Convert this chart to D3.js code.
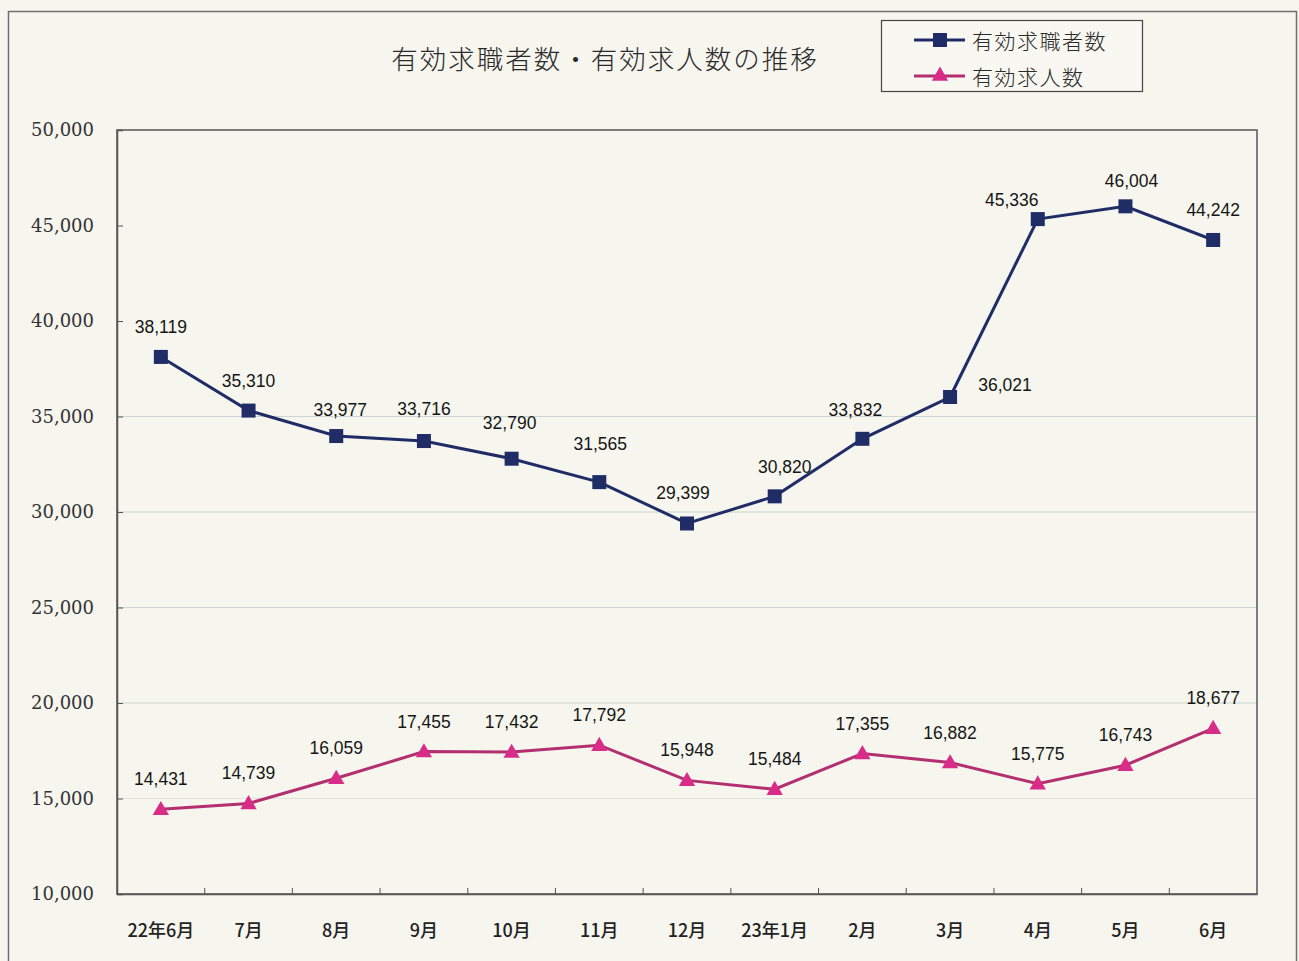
<!DOCTYPE html>
<html>
<head>
<meta charset="utf-8">
<script src="https://cdn.jsdelivr.net/npm/d3@7"></script>
<style>
  html, body { margin: 0; padding: 0; background: #f6f5ee; }
  svg { display: block; }
</style>
</head>
<body>
<svg id="chart"></svg>
<script>
// chart data
const months = ['22年6月', '7月', '8月', '9月', '10月', '11月', '12月', '23年1月', '2月', '3月', '4月', '5月', '6月'];
const jobSeekers = [38119, 35310, 33977, 33716, 32790, 31565, 29399, 30820, 33832, 36021, 45336, 46004, 44242];
const jobOffers = [14431, 14739, 16059, 17455, 17432, 17792, 15948, 15484, 17355, 16882, 15775, 16743, 18677];
const yTicks = [10000, 15000, 20000, 25000, 30000, 35000, 40000, 45000, 50000];
const gridTicks = [15000, 20000, 25000, 30000, 35000]; // the upper gridlines are faded out in the scan
const seriesNames = ['有効求職者数', '有効求人数'];
const title = '有効求職者数・有効求人数の推移';

// small nudges for a few value labels (as placed in the original)
const seekerLabelDx = [0, 0, 4, 0, -2, 1, -4, 10, -7, 55, -26, 6, 0];
const seekerLabelDy = [-30, -30, -26, -32, -36, -38, -30, -29, -29, -12, -19, -25, -30];

const W = 1299, H = 961;
const margin = { left: 117, top: 130, right: W - 1257, bottom: H - 894 };
const navy = '#1f2c66', pinkLine = '#b32f6f', pinkMark = '#d92c88';

const svg = d3.select('#chart').attr('width', W).attr('height', H);

// outer frame
svg.append('rect')
    .attr('x', 8.5).attr('y', 11.5)
    .attr('width', 1288).attr('height', 970)
    .attr('fill', 'none').attr('stroke', '#6f6f6f').attr('stroke-width', 1.5);

const x = d3.scaleBand()
    .domain(months)
    .range([margin.left, W - margin.right]);

const y = d3.scaleLinear()
    .domain([10000, 50000])
    .range([H - margin.bottom, margin.top]);

// gridlines
svg.append('g')
    .selectAll('line')
    .data(gridTicks)
    .join('line')
    .attr('x1', margin.left).attr('x2', W - margin.right)
    .attr('y1', d => y(d)).attr('y2', d => y(d))
    .attr('stroke', d => d === 15000 ? '#dfe3dc' : '#cbd5d1')
    .attr('stroke-width', 1.2);

// plot frame
svg.append('rect')
    .attr('x', margin.left).attr('y', margin.top)
    .attr('width', W - margin.left - margin.right)
    .attr('height', H - margin.top - margin.bottom)
    .attr('fill', 'none').attr('stroke', '#555').attr('stroke-width', 1.5);

// y axis
const yAxis = svg.append('g')
    .attr('transform', `translate(${margin.left},0)`)
    .call(d3.axisLeft(y).tickValues(yTicks).tickSize(-6).tickPadding(23).tickFormat(d3.format(',')));
yAxis.select('.domain').attr('stroke', '#555').attr('stroke-width', 1.5);
yAxis.selectAll('.tick line').attr('stroke', '#555');
yAxis.selectAll('text')
    .attr('fill', '#333')
    .style('font-family', '"DejaVu Serif", "Liberation Serif", serif')
    .style('font-size', '18px');

// x axis: ticks at category boundaries, pointing inward
const xAxis = svg.append('g')
    .attr('transform', `translate(0,${H - margin.bottom})`)
    .call(d3.axisBottom(x).tickSize(0).tickPadding(0));
xAxis.select('.domain').attr('stroke', '#555').attr('stroke-width', 1.5);
xAxis.selectAll('text')
    .attr('y', 43)
    .attr('dy', 0)
    .attr('fill', '#222')
    .style('font-family', '"Noto Sans CJK JP", sans-serif')
    .style('font-weight', 500)
    .style('font-size', '18px');
xAxis.selectAll('.boundary')
    .data(months.slice(1))
    .join('line')
    .attr('class', 'boundary')
    .attr('x1', d => x(d)).attr('x2', d => x(d))
    .attr('y1', 0).attr('y2', -6)
    .attr('stroke', '#555');

const cx = d => x(d) + x.bandwidth() / 2;
const line = d3.line().x((d, i) => cx(months[i])).y(d => y(d));

// job seekers series
svg.append('path')
    .datum(jobSeekers)
    .attr('d', line)
    .attr('fill', 'none').attr('stroke', navy).attr('stroke-width', 3);
svg.append('g')
    .selectAll('rect')
    .data(jobSeekers)
    .join('rect')
    .attr('x', (d, i) => cx(months[i]) - 7)
    .attr('y', d => y(d) - 7)
    .attr('width', 14).attr('height', 14)
    .attr('fill', navy);

// job offers series
svg.append('path')
    .datum(jobOffers)
    .attr('d', line)
    .attr('fill', 'none').attr('stroke', pinkLine).attr('stroke-width', 3);
const tri = d3.symbol().type(d3.symbolTriangle).size(115);
svg.append('g')
    .selectAll('path')
    .data(jobOffers)
    .join('path')
    .attr('d', tri)
    .attr('transform', (d, i) => `translate(${cx(months[i])},${y(d) + 1})`)
    .attr('fill', pinkMark);

// value labels
const labelFont = '"Liberation Sans", Arial, sans-serif';
svg.append('g')
    .selectAll('text')
    .data(jobSeekers)
    .join('text')
    .attr('x', (d, i) => cx(months[i]) + seekerLabelDx[i])
    .attr('y', (d, i) => y(d) + seekerLabelDy[i] + 6)
    .attr('text-anchor', 'middle')
    .attr('fill', '#151515')
    .style('font-family', labelFont)
    .style('font-size', '17.5px')
    .text(d => d3.format(',')(d));

svg.append('g')
    .selectAll('text')
    .data(jobOffers)
    .join('text')
    .attr('x', (d, i) => cx(months[i]))
    .attr('y', d => y(d) - 24)
    .attr('text-anchor', 'middle')
    .attr('fill', '#151515')
    .style('font-family', labelFont)
    .style('font-size', '17.5px')
    .text(d => d3.format(',')(d));

// title
svg.append('text')
    .attr('x', 605).attr('y', 69)
    .attr('text-anchor', 'middle')
    .attr('fill', '#2a2a2a')
    .style('font-family', '"Noto Sans CJK JP", sans-serif')
    .style('font-weight', 300)
    .style('font-size', '26.5px')
    .style('letter-spacing', '2px')
    .text(title);

// legend
const legend = svg.append('g');
legend.append('rect')
    .attr('x', 881.5).attr('y', 20.5)
    .attr('width', 261).attr('height', 71)
    .attr('fill', '#f8f7f1').attr('stroke', '#444').attr('stroke-width', 1.2);

const legendRows = [
    { name: seriesNames[0], color: navy, mark: 'square', y: 40 },
    { name: seriesNames[1], color: pinkLine, markColor: pinkMark, mark: 'tri', y: 76 }
];
legendRows.forEach(r => {
    legend.append('line')
        .attr('x1', 914).attr('x2', 965)
        .attr('y1', r.y).attr('y2', r.y)
        .attr('stroke', r.color).attr('stroke-width', 3);
    if (r.mark === 'square') {
        legend.append('rect')
            .attr('x', 933).attr('y', r.y - 7)
            .attr('width', 14).attr('height', 14)
            .attr('fill', r.color);
    } else {
        legend.append('path')
            .attr('d', tri)
            .attr('transform', `translate(940,${r.y})`)
            .attr('fill', r.markColor);
    }
    legend.append('text')
        .attr('x', 972).attr('y', r.y + 9)
        .attr('fill', '#2a2a2a')
        .style('font-family', '"Noto Sans CJK JP", sans-serif')
        .style('font-weight', 300)
        .style('font-size', '21px')
        .style('letter-spacing', '1.5px')
        .text(r.name);
});
</script>
</body>
</html>
